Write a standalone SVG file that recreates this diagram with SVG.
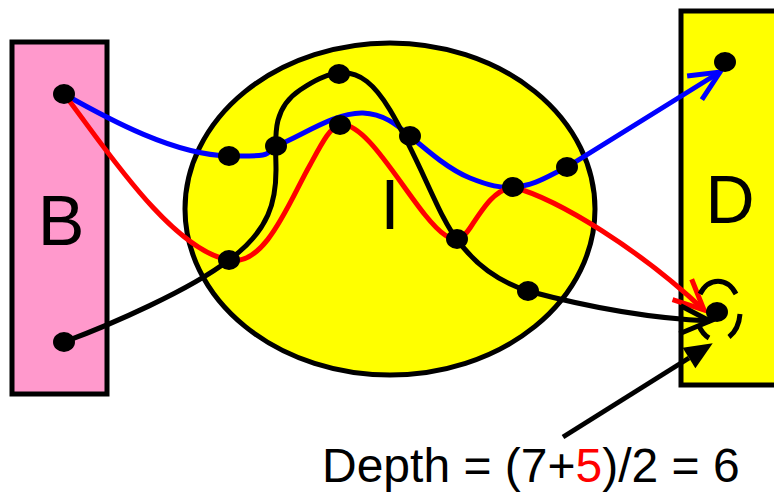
<svg xmlns="http://www.w3.org/2000/svg" width="774" height="494" viewBox="0 0 774 494">
<style>
.box{stroke:#000;stroke-width:5}
.big{font-family:"Liberation Sans",Arial,sans-serif;font-size:70px;fill:#000;text-anchor:middle}
.c{fill:none;stroke-width:5}
.dot{fill:#000}
.lbl{font-family:"Liberation Sans",Arial,sans-serif;font-size:48px;fill:#000}
</style>
<defs>
<marker id="ab" markerUnits="userSpaceOnUse" viewBox="-34 -18 38 36" refX="0" refY="0" markerWidth="38" markerHeight="36" orient="auto" overflow="visible"><path d="M-30,-14 L0,0 L-30,14" fill="none" stroke="#0000ff" stroke-width="5"/></marker>
<marker id="ar" markerUnits="userSpaceOnUse" viewBox="-34 -18 38 36" refX="0" refY="0" markerWidth="38" markerHeight="36" orient="auto" overflow="visible"><path d="M-30,-14 L0,0 L-30,14" fill="none" stroke="#ff0000" stroke-width="5"/></marker>
<marker id="ak" markerUnits="userSpaceOnUse" viewBox="-34 -18 38 36" refX="0" refY="0" markerWidth="38" markerHeight="36" orient="auto" overflow="visible"><path d="M-30,-14 L0,0 L-30,14" fill="none" stroke="#000" stroke-width="5"/></marker>
<marker id="tri" markerUnits="userSpaceOnUse" viewBox="-2 -14 32 28" refX="0" refY="0" markerWidth="32" markerHeight="28" orient="auto" overflow="visible"><path d="M0,-12 L28,0 L0,12 z" fill="#000"/></marker>
</defs>
<g id="B"><rect class="box" x="12" y="42" width="95" height="352" fill="#ff99cc"/><text class="big" x="61" y="245">B</text></g>
<g id="D"><rect class="box" x="681" y="11" width="100" height="374" fill="#ffff00"/><text class="big" x="730" y="223" style="font-size:68px">D</text></g>
<g id="I"><ellipse class="box" cx="390" cy="209" rx="205" ry="166" fill="#ffff00"/><text class="big" x="390" y="229">I</text></g>
<g id="connectors">
<path id="blue" class="c" stroke="#0000ff" marker-end="url(#ab)" d="M64,94 C110,120 175,155 229,156 S262,152 276,146 C300,137 335,112 363,113 C385,114 398,126 410,136 C430,153 450,170 470,178 C490,186 500,188 513,187 C535,186 550,175 567,167 L720,72"/>
<path id="red" class="c" stroke="#ff0000" marker-end="url(#ar)" d="M64,94 C100,140 170,250 229,260 C265,268 290,200 310,165 C322,143 330,127 340,125 C370,120 415,215 445,235 C455,242 462,240 470,228 C485,205 495,190 513,187 C560,200 640,250 704,310"/>
<path id="black" class="c" stroke="#000" marker-end="url(#ak)" d="M64,342 C110,325 190,290 229,260 C270,230 276,200 276,170 C276,140 270,110 300,90 C315,80 325,75 339,73 C360,71 375,85 390,110 C420,160 440,220 457,239 C475,265 500,282 528,291 C580,305 640,318 710,321"/>
<path id="pointer" class="c" stroke="#000" marker-end="url(#tri)" d="M563,437 L689,358"/>
<g id="depth-ring" fill="none" stroke="#000" stroke-width="5">
<path d="M700,294 A22,30 0 0 1 736,294"/>
<path d="M740,314 A22,30 0 0 1 729,337"/>
<path d="M709,338 A22,30 0 0 1 699,326"/>
</g>
</g>
<g id="nodes">
<ellipse id="b1" class="dot" cx="64" cy="94" rx="11" ry="10"/>
<ellipse id="b2" class="dot" cx="64" cy="342" rx="11" ry="10"/>
<ellipse id="n1" class="dot" cx="229" cy="156" rx="11" ry="10"/>
<ellipse id="n2" class="dot" cx="276" cy="146" rx="11" ry="10"/>
<ellipse id="n3" class="dot" cx="339" cy="74" rx="11" ry="10"/>
<ellipse id="n4" class="dot" cx="340" cy="125" rx="11" ry="10"/>
<ellipse id="n5" class="dot" cx="410" cy="136" rx="11" ry="10"/>
<ellipse id="n6" class="dot" cx="457" cy="239" rx="11" ry="10"/>
<ellipse id="n7" class="dot" cx="513" cy="187" rx="11" ry="10"/>
<ellipse id="n8" class="dot" cx="567" cy="167" rx="11" ry="10"/>
<ellipse id="n9" class="dot" cx="229" cy="260" rx="11" ry="10"/>
<ellipse id="n10" class="dot" cx="528" cy="291" rx="11" ry="10"/>
<ellipse id="d1" class="dot" cx="725" cy="62" rx="11" ry="10"/>
<ellipse id="d2" class="dot" cx="717" cy="312" rx="11" ry="10"/>
</g>
<g id="label"><text class="lbl" x="322" y="482">Depth = (7+<tspan fill="#ff0000">5</tspan>)/2 = 6</text></g>
</svg>
